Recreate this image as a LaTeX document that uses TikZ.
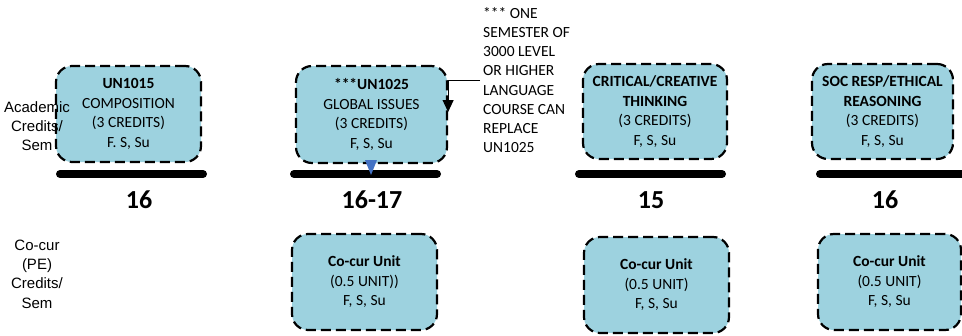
\documentclass[tikz,border=0pt]{standalone}
\usepackage{fontspec}
\setmainfont{Carlito}
\newfontfamily\arialf{Liberation Sans}
\usetikzlibrary{arrows.meta}
\definecolor{boxfill}{RGB}{157,210,223}
\definecolor{triblue}{RGB}{68,114,196}
\tikzset{
  course/.style={draw=black, fill=boxfill, dash pattern=on 10pt off 5pt, line width=2.2pt,
    rounded corners=16pt, align=center, inner sep=0pt,
    font=\fontsize{15.5}{19.5}\selectfont},
  semline/.style={line width=8pt, line cap=round},
  credit/.style={font=\fontsize{26}{30}\selectfont\bfseries, inner sep=0pt},
  rowlabel/.style={align=center, inner sep=0pt, font=\arialf\fontsize{15}{19.3}\selectfont},
  notetext/.style={align=left, inner sep=3pt, font=\fontsize{15.5}{19.2}\selectfont},
  notearrow/.style={line width=1pt, -{Triangle[length=12pt,width=11pt]}}
}
\begin{document}
\begin{tikzpicture}[x=1pt,y=-1pt]
\useasboundingbox (0,0) rectangle (962,335);
% academic course boxes
\node[course, minimum width=145pt, minimum height=96pt] (b1) at (128.5,114)
  {\textbf{UN1015}\\COMPOSITION\\(3 CREDITS)\\F. S, Su};
\node[course, minimum width=151pt, minimum height=97pt] (b2) at (371.5,114.5)
  {\textbf{***UN1025}\\GLOBAL ISSUES\\(3 CREDITS)\\F, S, Su};
\node[course, minimum width=144pt, minimum height=95pt] (b3) at (655,111.5)
  {\textbf{CRITICAL/CREATIVE}\\\textbf{THINKING}\\(3 CREDITS)\\F, S, Su};
\node[course, minimum width=141pt, minimum height=95pt] (b4) at (882.5,111.5)
  {\textbf{SOC RESP/ETHICAL}\\\textbf{REASONING}\\(3 CREDITS)\\F, S, Su};
% co-curricular boxes
\node[course, minimum width=145pt, minimum height=96pt] (c1) at (364.5,282)
  {\textbf{Co-cur Unit}\\(0.5 UNIT))\\F, S, Su};
\node[course, minimum width=145pt, minimum height=96pt] (c2) at (656.5,285)
  {\textbf{Co-cur Unit}\\(0.5 UNIT)\\F, S, Su};
\node[course, minimum width=143pt, minimum height=96pt] (c3) at (889.5,282)
  {\textbf{Co-cur Unit}\\(0.5 UNIT)\\F, S, Su};
% semester lines
\draw[semline] (60,174) -- (203,174);
\draw[semline] (294,174) -- (437,174);
\draw[semline] (579,174) -- (722,174);
\draw[semline] (820,174) -- (975,174);
\fill[triblue] (365,160) -- (377,160) -- (371,175) -- cycle;
% credit totals
\node[credit] (n1) at (139,200) {16};
\node[credit] (n2) at (372,200) {16-17};
\node[credit] (n3) at (651,200) {15};
\node[credit] (n4) at (885,200) {16};
% row labels
\node[rowlabel] (lab1) at (37,126) {Academic\\Credits/\\Sem};
\node[rowlabel] (lab2) at (37,274) {Co-cur\\(PE)\\Credits/\\Sem};
% note
\node[notetext, anchor=west] (note) at (480,80)
  {*** ONE\\SEMESTER OF\\3000 LEVEL\\OR HIGHER\\LANGUAGE\\COURSE CAN\\REPLACE\\UN1025};
\draw[notearrow] (note.west) -| ([yshift=2.5pt]b2.east);
\end{tikzpicture}
\end{document}
